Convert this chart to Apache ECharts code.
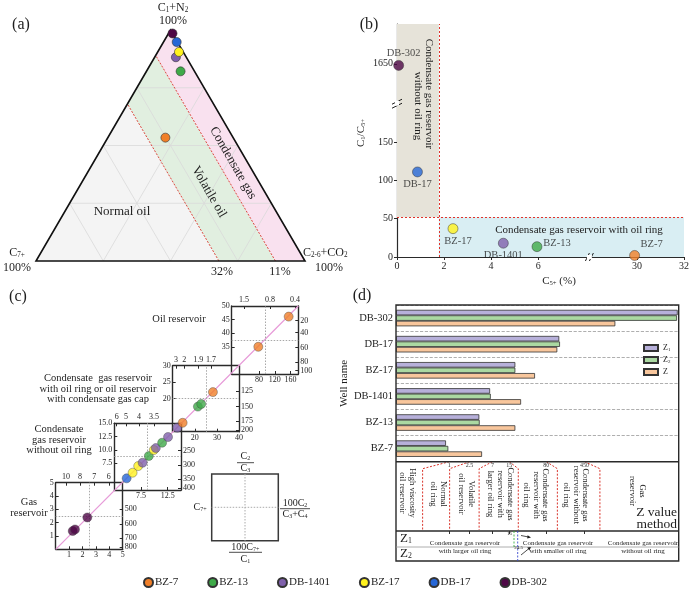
<!DOCTYPE html>
<html><head><meta charset="utf-8">
<script src="https://cdn.jsdelivr.net/npm/echarts@6/dist/echarts.min.js"></script>
<style>html,body{margin:0;padding:0;background:#fff}#c{width:692px;height:590px}</style>
</head><body><div id="c"></div>
<script>
// ================= DATA =================
const wells = ['BZ-7','BZ-13','DB-1401','BZ-17','DB-17','DB-302'];
const wellColors = ['#f07f28','#3eaa48','#7f60ab','#fff21e','#2566d6','#4e0846'];
// (a) ternary composition (%): C1+N2, C2-6+CO2, C7+
const ternC1N2 = [53.4, 82.1, 88.2, 90.5, 94.8, 98.5];
const ternC26  = [21.4, 12.7, 7.9, 7.9, 4.9, 1.5];
const ternC7   = [25.2, 5.2, 3.9, 1.6, 0.3, 0.0];
const ternBounds = [32, 11];          // C7+ limits: normal oil / volatile oil / condensate gas
const ternGridSteps = [25, 50, 75];
// (b) C5+ (%) vs C1/C5+
const c5plus    = [29.9, 5.95, 4.52, 2.38, 0.87, 0.07];
const c1c5ratio = [2, 13.5, 18, 37, 111, 1648];
const bXTicks = [0, 2, 4, 6, 30, 32];
const bYTicks = [0, 50, 100, 150, 1650];
const bXBreak = [8.2, 28];
const bYBreak = [200, 1598];
const bXMax = 32, bYMax = 1702;
const bC5Limit = 1.78, bRatioLimit = 52;
// (c) four diagnostic boxes (bottom/left axis units)
const boxXRange = [[0,5],[2.5,15],[10,40],[10,180]];
const boxYRange = [[0,5],[2.5,15],[10,30],[25,50]];
const boxBottomTicks  = [[1,2,3,4,5],[7.5,12.5],[20,30,40],[80,120,160,180]];
const boxBottomLabels = [['1','2','3','4','5'],['7.5','12.5'],['20','30','40'],['80','120','160','180']];
const boxLeftTicks  = [[1,2,3,4,5],[7.5,10,12.5,15],[20,25,30],[35,40,45,50]];
const boxLeftLabels = [['1','2','3','4','5'],['7.5','10.0','12.5','15.0'],['20','25','30'],['35','40','45','50']];
const boxTopTicks  = [[0.77,1.81,2.88,3.96],[2.95,4.69,7.12,9.93],[11.5,15.25,21.6,27.3],[41.4,107.7,171.5]];
const boxTopLabels = [['10','8','7','6'],['6','5','4','3.5'],['3','2','1.9','1.7'],['1.5','0.8','0.4']];
const boxRightTicks  = [[3.0,1.9,0.84,0.15],[9.86,7.18,4.56,2.82],[22.4,17.6,13.3,10.5],[44.6,40.2,34.7,29.5,26.2]];
const boxRightLabels = [['500','600','700','800'],['250','300','350','400'],['125','150','175','200'],['20','40','60','80','100']];
const boxPtX = [[1.27,1.44,2.36],[4.81,5.93,6.98,7.8,8.97,9.9,10.28,11.46,12.57,14.3],[14.5,21.4,22.9,28.2],[77.9,155.4]];
const boxPtY = [[1.37,1.49,2.39],[4.69,5.74,6.99,7.61,8.87,9.99,10.36,11.36,12.43,14.17],[12.7,17.6,18.4,22.0],[35.0,46.1]];
const boxPtWell = [[5,5,5],[4,3,3,2,1,3,2,1,2,2],[0,1,1,0],[0,0]];
// (d) Z value method
const barWells = ['DB-302','DB-17','BZ-17','DB-1401','BZ-13','BZ-7'];
const zNames = ['Z1','Z2','Z'];
const z1Vals = [30100, 143, 19.7, 6.3, 3.87, 0.86];
const z2Vals = [29200, 148, 19.7, 6.5, 3.94, 0.955];
const zVals  = [1800, 131, 47.9, 25.5, 19.7, 4.38];
const zBounds = [1, 2.5, 7, 15, 80, 450];
const zAxisMin = 0.09, zAxisMax = 31500;

// ================= LAYOUT / STYLE =================
const FF = 'Liberation Serif';
const INK = '#1e1e1e';
const boxLayouts = [[55.7,482.7,67,66.6],[114.3,423.3,66.7,66.7],[172.7,365.7,66.3,66],[231.7,306,66.6,68]];
const zDashOffset = [-26.7, -20, -13.3, 9, 11, 15.3];
const regionFill = ['#f4f4f4', '#e1efe0', '#f9e1ef'];
const zColors = ['#b7b0da', '#abd9a2', '#f8c69c'];
const bLabelPos = [
  {position:'top', offset:[17,3]}, {position:'right', offset:[-2,-3]}, {position:'bottom', offset:[0,-2]},
  {position:'bottom', offset:[5,-1]}, {position:'bottom', offset:[0,-1]}, {position:'top', offset:[5,2]}
];

function rich(fs){
  return {s:{fontSize: Math.round(fs*0.6*10)/10, verticalAlign:'bottom', fontFamily:FF, fill:INK, color:INK}};
}
function T(x, y, text, fs, ex){
  ex = ex || {};
  const st = {text, fontFamily:FF, fontSize:fs, fill: ex.fill || INK,
    align: ex.align || 'center', verticalAlign: ex.va || 'middle',
    textAlign: ex.align || 'center', textVerticalAlign: ex.va || 'middle', rich: rich(fs)};
  if (ex.lh) { st.lineHeight = ex.lh; }
  return {type:'text', x, y, rotation: ex.rot || 0, silent:true, z:100, style: st};
}
function L(x1,y1,x2,y2,stroke,w,dash){
  const st = {stroke: stroke || INK, lineWidth: w || 1};
  if (dash) st.lineDash = dash;
  return {type:'line', shape:{x1,y1,x2,y2}, silent:true, z:90, style: st};
}
const nearestIdx = (arr, v) => arr.reduce((bi, a, i) => Math.abs(a - v) < Math.abs(arr[bi] - v) ? i : bi, 0);

// ternary helpers
function tern2xy(a, b, c){ const s = a + b + c; return [(b + a / 2) / s, a / s]; }
const regions = [
  [[0,0,100],[0,100-ternBounds[0],ternBounds[0]],[100-ternBounds[0],0,ternBounds[0]]],
  [[0,100-ternBounds[0],ternBounds[0]],[0,100-ternBounds[1],ternBounds[1]],[100-ternBounds[1],0,ternBounds[1]],[100-ternBounds[0],0,ternBounds[0]]],
  [[0,100-ternBounds[1],ternBounds[1]],[0,100,0],[100,0,0],[100-ternBounds[1],0,ternBounds[1]]]
];
const gridSegs = [];
ternGridSteps.forEach(k => {
  gridSegs.push([[k,0,100-k],[k,100-k,0]]);
  gridSegs.push([[0,k,100-k],[100-k,k,0]]);
  gridSegs.push([[0,100-k,k],[100-k,0,k]]);
});
const boundSegs = ternBounds.map(k => [[0,100-k,k],[100-k,0,k]]);

// broken-axis transforms for (b)
const bx = v => v <= bXBreak[0] ? v : v - (bXBreak[1] - bXBreak[0]);
const by = v => v <= bYBreak[0] ? v : v - (bYBreak[1] - bYBreak[0]);

// ================= OPTION =================
const hidden = (g, min, max) => ({type:'value', gridIndex:g, min, max, show:false});
const grids = [
  {left:36, top:30, width:269, height:231},
  {left:397, top:24, width:289, height:233},
  {left:55.7, top:306, width:242.6, height:243.3},
];
boxLayouts.forEach(b => grids.push({left:b[0], top:b[1], width:b[2], height:b[3]}));
grids.push({left:396, top:305, width:282.7, height:156.7});
grids.push({left:396, top:461.7, width:282.7, height:69.3});

const xAxes = [hidden(0,0,1)];
const yAxes = [hidden(0,0,1)];
const axLine = {show:true, onZero:false, lineStyle:{color:'#2a2a2a', width:1.2}};
xAxes.push({type:'value', gridIndex:1, min:0, max:bx(bXMax), axisLine:axLine,
  axisTick:{show:true, length:3, customValues:bXTicks.map(bx), lineStyle:{color:'#2a2a2a'}},
  axisLabel:{customValues:bXTicks.map(bx), fontSize:10, fontFamily:FF, color:INK, margin:4,
    formatter: v => String(bXTicks[nearestIdx(bXTicks.map(bx), v)])},
  splitLine:{show:false}});
yAxes.push({type:'value', gridIndex:1, min:0, max:by(bYMax), axisLine:axLine,
  axisTick:{show:true, length:3, customValues:bYTicks.map(by), lineStyle:{color:'#2a2a2a'}},
  axisLabel:{customValues:bYTicks.map(by), fontSize:10, fontFamily:FF, color:INK, margin:4,
    formatter: v => String(bYTicks[nearestIdx(bYTicks.map(by), v)])},
  splitLine:{show:false}});
xAxes.push(hidden(2,0,1)); yAxes.push(hidden(2,0,1));

function boxAxis(g, pos, range, vals, labels){
  return {type:'value', gridIndex:g, position:pos, min:range[0], max:range[1],
    axisLine:{show:true, onZero:false, lineStyle:{color:'#2a2a2a', width:1.4}},
    axisTick:{show:true, inside:true, length:3, customValues:vals, lineStyle:{color:'#2a2a2a'}},
    axisLabel:{show:true, customValues:vals, fontSize:8, fontFamily:FF, color:INK, margin:2,
      formatter: v => labels[nearestIdx(vals, v)]},
    splitLine:{show:false}};
}
for (let i = 0; i < 4; i++) {
  const g = 3 + i;
  xAxes.push(boxAxis(g, 'bottom', boxXRange[i], boxBottomTicks[i], boxBottomLabels[i]));
  xAxes.push(boxAxis(g, 'top', boxXRange[i], boxTopTicks[i], boxTopLabels[i]));
  yAxes.push(boxAxis(g, 'left', boxYRange[i], boxLeftTicks[i], boxLeftLabels[i]));
  yAxes.push(boxAxis(g, 'right', boxYRange[i], boxRightTicks[i], boxRightLabels[i]));
}
// (d) bars: xAxis 11 / yAxis 11
xAxes.push({type:'log', gridIndex:7, min:zAxisMin, max:zAxisMax, startValue:zAxisMin, show:false});
yAxes.push({type:'category', gridIndex:7, data:barWells, inverse:true,
  axisLine:{show:false}, axisTick:{show:false},
  axisLabel:{fontSize:10.5, fontFamily:FF, color:INK, margin:3},
  splitLine:{show:true, lineStyle:{type:'dashed', color:'#9a9a9a', width:0.8}},
  name:'Well name', nameLocation:'middle', nameGap:36, nameRotate:90,
  nameTextStyle:{fontSize:11, fontFamily:FF, color:INK}});
// (d) classification strip: xAxis 12 / yAxis 12
xAxes.push({type:'log', gridIndex:8, min:zAxisMin, max:zAxisMax, position:'top',
  axisLine:{show:false},
  axisTick:{show:true, inside:true, length:3, customValues:zBounds, lineStyle:{color:'#333'}},
  axisLabel:{show:true, inside:true, customValues:zBounds, fontSize:6, fontFamily:FF, color:'#333', margin:1,
    formatter: v => String(zBounds[nearestIdx(zBounds, v)])},
  splitLine:{show:false}});
yAxes.push(hidden(8,0,1));

const series = [];
// (a) regions
series.push({type:'custom', xAxisIndex:0, yAxisIndex:0, silent:true, z:1,
  data: regions.map((r,i)=>[i]),
  renderItem:(p, api) => ({type:'polygon',
    shape:{points: regions[p.dataIndex].map(v => api.coord(tern2xy(v[0],v[1],v[2])))},
    style:{fill: regionFill[p.dataIndex]}})});
series.push({type:'custom', xAxisIndex:0, yAxisIndex:0, silent:true, z:2,
  data: gridSegs.map((s,i)=>[i]),
  renderItem:(p, api) => { const s = gridSegs[p.dataIndex];
    const a = api.coord(tern2xy(...s[0])), b = api.coord(tern2xy(...s[1]));
    return {type:'line', shape:{x1:a[0],y1:a[1],x2:b[0],y2:b[1]}, style:{stroke:'#d9d9d9', lineWidth:0.8}}; }});
series.push({type:'custom', xAxisIndex:0, yAxisIndex:0, silent:true, z:3,
  data: boundSegs.map((s,i)=>[i]),
  renderItem:(p, api) => { const s = boundSegs[p.dataIndex];
    const a = api.coord(tern2xy(...s[0])), b = api.coord(tern2xy(...s[1]));
    return {type:'line', shape:{x1:a[0],y1:a[1],x2:b[0],y2:b[1]}, style:{stroke:'#d9342b', lineWidth:0.9, lineDash:[2,1.5]}}; }});
series.push({type:'custom', xAxisIndex:0, yAxisIndex:0, silent:true, z:4,
  data:[[0]],
  renderItem:(p, api) => ({type:'polygon',
    shape:{points:[[100,0,0],[0,0,100],[0,100,0]].map(v => api.coord(tern2xy(...v)))},
    style:{fill:null, stroke:'#111', lineWidth:1.6}})});
wells.forEach((w, i) => {
  series.push({type:'scatter', name:w, xAxisIndex:0, yAxisIndex:0, z:5, symbolSize:9,
    data:[tern2xy(ternC1N2[i], ternC26[i], ternC7[i])],
    itemStyle:{color:wellColors[i], borderColor:'#333', borderWidth:0.6, opacity:1}});
});
// (b)
series.push({type:'scatter', xAxisIndex:1, yAxisIndex:1, z:1, silent:true, data:[],
  markArea:{silent:true, data:[
    [{xAxis:0, yAxis:bRatioLimit, itemStyle:{color:'#e6e3d9'}}, {xAxis:bC5Limit, yAxis:by(bYMax)}],
    [{xAxis:bC5Limit, yAxis:0, itemStyle:{color:'#d9eef3'}}, {xAxis:bx(bXMax), yAxis:bRatioLimit}]
  ]},
  markLine:{silent:true, symbol:['none','none'], label:{show:false},
    lineStyle:{color:'#e0332b', type:[2,2], width:1},
    data:[{xAxis:bC5Limit}, {yAxis:bRatioLimit}]}});
series.push({type:'scatter', name:'b-points', xAxisIndex:1, yAxisIndex:1, z:5, symbolSize:10, clip:false,
  data: wells.map((w,i) => ({value:[bx(c5plus[i]), by(c1c5ratio[i])],
    itemStyle:{color:wellColors[i], borderColor:'#333', borderWidth:0.6},
    label:Object.assign({show:true, formatter:w, fontSize:10.5, fontFamily:FF, color:INK, distance:3}, bLabelPos[i])}))});
// (c) diagonal
series.push({type:'line', xAxisIndex:2, yAxisIndex:2, z:2, silent:true, symbol:'none',
  data:[[0,0],[1,1]], lineStyle:{color:'#e79ad8', width:1.2}});
for (let i = 0; i < 4; i++) {
  series.push({type:'scatter', name:'box'+(i+1), xAxisIndex:3+2*i, yAxisIndex:3+2*i, z:5, symbolSize:9, clip:false,
    data: boxPtX[i].map((x,j) => ({value:[x, boxPtY[i][j]],
      itemStyle:{color:wellColors[boxPtWell[i][j]], borderColor:'#444', borderWidth:0.5}})),
    markLine:{silent:true, symbol:['none','none'], label:{show:false},
      lineStyle:{color:'#a8a8a8', type:[1.5,1.5], width:1},
      data:[{xAxis:(boxXRange[i][0]+boxXRange[i][1])/2}, {yAxis:(boxYRange[i][0]+boxYRange[i][1])/2}]}});
}
// (d) bars
[z1Vals, z2Vals, zVals].forEach((vals, k) => {
  series.push({type:'bar', name:zNames[k], xAxisIndex:11, yAxisIndex:11, data:vals,
    barWidth:5.5, barGap:'0%', z:3,
    itemStyle:{color:zColors[k], borderColor:'#333', borderWidth:0.8}});
});
series.push({type:'custom', xAxisIndex:12, yAxisIndex:12, silent:true, z:3,
  data: zBounds.map((b,i) => [b, 0.5]),
  renderItem:(p, api) => { const i = p.dataIndex;
    const t = api.coord([zBounds[i], 1]), b = api.coord([zBounds[i], 0]);
    const dx = zDashOffset[i];
    return {type:'polyline', shape:{points:[[t[0], t[1]], [t[0]+dx, t[1]+7], [t[0]+dx, b[1]-1]]},
      style:{stroke:'#d9342b', lineWidth:1, lineDash:[2,1.6], fill:null}}; }});

const option = {
  animation:false, backgroundColor:'#fff', textStyle:{fontFamily:FF},
  grid:grids, xAxis:xAxes, yAxis:yAxes, series,
  legend:[
    {data:wells, left:138, top:572, itemWidth:9, itemHeight:9, itemGap:29, icon:'circle',
      textStyle:{fontFamily:FF, fontSize:11, color:INK, padding:[0,0,0,-3]}},
    {data:zNames, left:638, top:339, orient:'vertical', itemWidth:14, itemHeight:6, itemGap:4, icon:'rect',
      formatter: n => n.length > 1 ? 'Z{s|' + n.slice(1) + '}' : 'Z',
      textStyle:{fontFamily:FF, fontSize:8, color:INK, rich:{s:{fontSize:5, verticalAlign:'bottom', fontFamily:FF, color:INK}}}}
  ]
};
const chart = echarts.init(document.getElementById('c'), null, {renderer:'canvas'});
chart.setOption(option);

// ================= ANNOTATIONS =================
const G = [];
// (a)
G.push(T(21, 25, '(a)', 16));
G.push(T(173, 8, 'C{s|1}+N{s|2}', 12));
G.push(T(173, 21, '100%', 12));
G.push(T(17, 253, 'C{s|7+}', 12));
G.push(T(17, 268, '100%', 12));
G.push(T(303, 253, 'C{s|2-6}+CO{s|2}', 12, {align:'left'}));
G.push(T(329, 268, '100%', 12));
G.push(T(222, 272, '32%', 12));
G.push(T(280, 272, '11%', 12));
G.push(T(122, 212, 'Normal oil', 13));
G.push(T(209, 192, 'Volatile oil', 13, {rot:-Math.PI/3}));
G.push(T(233, 163, 'Condensate gas', 13, {rot:-Math.PI/3}));
// (b)
G.push(T(369, 25, '(b)', 16));
G.push(T(361, 133, 'C{s|1}/C{s|5+}', 11, {rot:Math.PI/2}));
G.push(T(559, 281, 'C{s|5+} (%)', 11));
G.push(T(429, 94, 'Condensate gas reservoir', 11, {rot:-Math.PI/2}));
G.push(T(418, 106, 'without oil ring', 11, {rot:-Math.PI/2}));
G.push(T(579, 230, 'Condensate gas reservoir with oil ring', 11));
// (c)
G.push(T(18, 297, '(c)', 16));
G.push(T(179, 319, 'Oil reservoir', 10.5));
G.push(T(98, 389, 'Condensate  gas reservoir\nwith oil ring or oil reservoir\nwith condensate gas cap', 10.5, {lh:10.7}));
G.push(T(59, 440, 'Condensate\ngas reservoir\nwithout oil ring', 10.5, {lh:10.7}));
G.push(T(29, 508, 'Gas\nreservoir', 10.5, {lh:10.7}));
G.push({type:'rect', shape:{x:211.7, y:474, width:66.6, height:66.7}, silent:true, z:90,
  style:{fill:null, stroke:'#3a3a3a', lineWidth:1.5}});
G.push(L(245, 474, 245, 540.7, '#aaa', 1, [1.5,1.5]));
G.push(L(211.7, 507.3, 278.3, 507.3, '#aaa', 1, [1.5,1.5]));
G.push(T(245.3, 456.5, 'C{s|2}', 10));
G.push(L(237, 462.7, 254, 462.7, INK, 0.8));
G.push(T(245.3, 468.3, 'C{s|3}', 10));
G.push(T(200, 507.7, 'C{s|7+}', 10));
G.push(T(295, 503, '100C{s|2}', 10));
G.push(L(280, 508.7, 310, 508.7, INK, 0.8));
G.push(T(295, 514.5, 'C{s|3}+C{s|4}', 10));
G.push(T(245.3, 547.3, '100C{s|7+}', 10));
G.push(L(229, 552.3, 262, 552.3, INK, 0.8));
G.push(T(245.3, 559, 'C{s|1}', 10));
// (d)
G.push(T(362, 296, '(d)', 16));
G.push({type:'rect', shape:{x:396, y:305, width:282.7, height:256}, silent:true, z:90,
  style:{fill:null, stroke:'#2a2a2a', lineWidth:1.4}});
G.push(L(396, 461.7, 678.7, 461.7, '#2a2a2a', 1.4));
G.push(L(396, 531, 678.7, 531, '#2a2a2a', 1.4));
G.push(L(396, 547, 678.7, 547, '#9a9a9a', 0.8));
G.push(T(407.5, 493, 'High viscosity\noil reservoir', 8.5, {rot:-Math.PI/2, lh:10}));
G.push(T(438, 494, 'Normal\noil ring', 8.5, {rot:-Math.PI/2, lh:10}));
G.push(T(466, 494, 'Volatile\noil reservoir', 8.5, {rot:-Math.PI/2, lh:10}));
G.push(T(500.5, 494, 'Condensate gas\nreservoir with\nlarger oil ring', 8.5, {rot:-Math.PI/2, lh:10}));
G.push(T(536, 495, 'Condensate gas\nreservoir with\noil ring', 8.5, {rot:-Math.PI/2, lh:9.5}));
G.push(T(576, 495, 'Condensate gas\nreservoir without\noil ring', 8.5, {rot:-Math.PI/2, lh:9.5}));
G.push(T(637, 491, 'Gas\nreservoir', 8.5, {rot:-Math.PI/2, lh:10}));
G.push(T(677, 512, 'Z value', 13.5, {align:'right'}));
G.push(T(677, 524, 'method', 13.5, {align:'right'}));
G.push(T(400, 538.5, 'Z{s|1}', 13, {align:'left'}));
G.push(T(400, 553.5, 'Z{s|2}', 13, {align:'left'}));
G.push(T(465, 543.3, 'Condensate gas reservoir', 7));
G.push(T(465, 551, 'with larger oil ring', 7));
G.push(T(558, 543.3, 'Condensate gas reservoir', 7));
G.push(T(558, 551, 'with smaller oil ring', 7));
G.push(T(643, 543.3, 'Condensate gas reservoir', 7));
G.push(T(643, 551, 'without oil ring', 7));
G.push(L(514, 531, 514, 547, '#3cb043', 0.9, [2,1.5]));
G.push(L(517.7, 531, 517.7, 561, '#3a4ad0', 0.9, [2,1.5]));
G.push(T(509.5, 534, '15', 5));
G.push(T(518.5, 547.5, '24.5', 5));
G.push(L(521, 535.5, 528.5, 537, INK, 0.8));
G.push({type:'polygon', shape:{points:[[531,537.5],[527.6,535.2],[527.2,538.6]]}, silent:true, z:90, style:{fill:INK}});
G.push(L(521, 555, 529, 548.5, INK, 0.8));
G.push({type:'polygon', shape:{points:[[531,547],[527.2,547.6],[529.4,550.6]]}, silent:true, z:90, style:{fill:INK}});

// break marks on (b) axes, located through the axis scales
const yb = chart.convertToPixel({xAxisIndex:1, yAxisIndex:1}, [0, bYBreak[0]]);
G.push({type:'rect', shape:{x:yb[0]-2, y:yb[1]-3, width:4, height:5}, silent:true, z:95, style:{fill:'#fff'}});
G.push(L(yb[0]-5, yb[1]+0.5, yb[0]+5, yb[1]-4.5, INK, 1));
G.push(L(yb[0]-5, yb[1]+4.5, yb[0]+5, yb[1]-0.5, INK, 1));
const xb = chart.convertToPixel({xAxisIndex:1, yAxisIndex:1}, [bXBreak[0], 0]);
G.push({type:'rect', shape:{x:xb[0]-3, y:xb[1]-2, width:5, height:4}, silent:true, z:95, style:{fill:'#fff'}});
G.push(L(xb[0]-4.5, xb[1]+4, xb[0]-0.5, xb[1]-4, INK, 1));
G.push(L(xb[0]-0.5, xb[1]+4, xb[0]+3.5, xb[1]-4, INK, 1));
chart.setOption({graphic: G});
</script></body></html>
